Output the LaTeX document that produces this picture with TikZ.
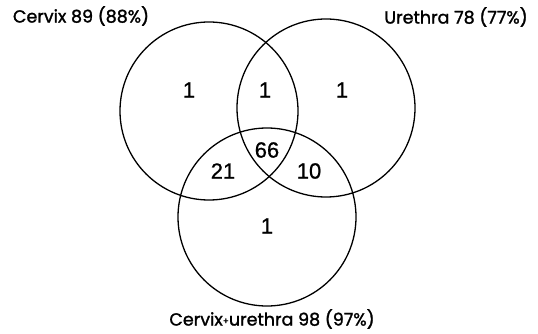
\documentclass[tikz,border=0pt]{standalone}
\usepackage{fontspec}
\newfontfamily\labelfont[FakeBold=1.5]{Poppins}
\newfontfamily\numfont[FakeBold=0.8]{Liberation Sans}
\begin{document}
\begin{tikzpicture}[x=1pt,y=-1pt,
  ring/.style={draw,line width=1.3pt},
  setlabel/.style={font=\labelfont\fontsize{17.5}{20}\selectfont,inner sep=0pt},
  count/.style={font=\numfont\fontsize{22}{24}\selectfont,inner sep=0pt}]
\useasboundingbox (0,0) rectangle (538,334);
\draw[ring] (209,111) circle (89);
\draw[ring] (326,108) circle (89);
\draw[ring] (267,217) circle (89);

\node[setlabel] (cervix) at (81,16) {Cervix 89 (88\%)};
\node[setlabel] (urethra) at (456,17) {Urethra 78 (77\%)};
\node[setlabel] (both) at (272,319) {Cervix{\raisebox{0.15ex}{\small+}}urethra 98 (97\%)};

\node[count] (onlyc) at (189,90) {1};
\node[count] (cu) at (265,90) {1};
\node[count] (onlyu) at (342,90) {1};
\node[count] (all) at (267,150) {66};
\node[count] (cb) at (223,171) {21};
\node[count] (ub) at (309,171) {10};
\node[count] (onlyb) at (267,226) {1};
\end{tikzpicture}
\end{document}
